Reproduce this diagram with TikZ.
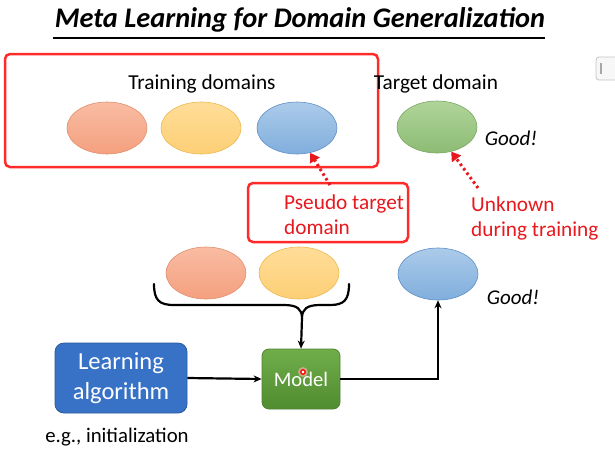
\documentclass[tikz,border=0pt]{standalone}
\usepackage{fontspec}
\setmainfont{Carlito}
\usetikzlibrary{arrows.meta,shapes.geometric}
\definecolor{redbox}{HTML}{FF2A2A}
\definecolor{redtxt}{HTML}{E8191E}
\definecolor{orT}{HTML}{F9BCA3}\definecolor{orB}{HTML}{F4A07E}\definecolor{orD}{HTML}{E0906E}
\definecolor{yeT}{HTML}{FFDD98}\definecolor{yeB}{HTML}{FDCF76}\definecolor{yeD}{HTML}{EDB94E}
\definecolor{blT}{HTML}{ACCBEA}\definecolor{blB}{HTML}{80AEDC}\definecolor{blD}{HTML}{5E8FC8}
\definecolor{grT}{HTML}{B0D49A}\definecolor{grB}{HTML}{8CBC74}\definecolor{grD}{HTML}{7AA862}
\tikzset{
  dom/.style={ellipse,draw,line width=0.6pt,minimum width=80pt,minimum height=52pt,inner sep=0pt},
  orangedom/.style={dom,draw=orD,top color=orT,bottom color=orB},
  yellowdom/.style={dom,draw=yeD,top color=yeT,bottom color=yeB},
  bluedom/.style={dom,draw=blD,top color=blT,bottom color=blB},
  greendom/.style={dom,draw=grD,top color=grT,bottom color=grB},
  redframe/.style={draw=redbox,line width=2.5pt,rounded corners=5pt},
  lbl/.style={font=\fontsize{21.3}{25}\selectfont,inner sep=0pt},
  redlbl/.style={font=\fontsize{21.3}{25}\selectfont,text=redtxt,align=left,inner sep=0pt},
  good/.style={font=\fontsize{21}{24}\selectfont\itshape,inner sep=0pt},
  redarrow/.style={draw=redtxt,line width=3pt,dash pattern=on 2.5pt off 3pt,-{Triangle[width=11pt,length=9pt]}},
  blackarrow/.style={draw=black,line width=2.2pt,-{Stealth[length=8pt,width=7pt]}},
}
\begin{document}
\begin{tikzpicture}[x=1pt,y=-1pt]
\useasboundingbox (0,0) rectangle (615,453);
\fill[white] (0,0) rectangle (615,453);
% title
\node[font=\fontsize{28.4}{32}\selectfont\bfseries\itshape,inner sep=0pt] (title) at (300,20) {Meta Learning for Domain Generalization};
\draw[line width=1.2pt] (53,38) -- (545,38);
% screen widget
\draw[gray!45,fill=gray!6,rounded corners=3pt,line width=0.8pt] (596,57) rectangle (622,80);
\draw[gray!70,line width=1.6pt] (601,63) -- (601,74);
% training domains frame
\draw[redframe] (5,54) rectangle (378,167);
\node[lbl] (train) at (202,84) {Training domains};
\node[orangedom] (o1) at (107,128) {};
\node[yellowdom] (y1) at (201,128) {};
\node[bluedom] (b1) at (297,128) {};
% target domain
\node[lbl] (target) at (436,84) {Target domain};
\node[greendom] (g1) at (437,127) {};
\node[good] (good1) at (511,138) {Good!};
% pseudo target
\node[redframe,minimum width=160pt,minimum height=59pt,inner sep=0pt] (pbox) at (328,212.5) {};
\node[redlbl,anchor=west] (ptxt) at (284,215) {Pseudo target\\domain};
\node[redlbl,anchor=west] (utxt) at (471,218) {Unknown\\during training};
\coordinate (pstart) at (330,185);
\coordinate (ustart) at (478,188);
\draw[redarrow] (pstart) -- (b1.-62);
\draw[redarrow] (ustart) -- (g1.-60);
% bottom domains
\node[orangedom] (o2) at (206,273) {};
\node[yellowdom] (y2) at (299,273) {};
\node[bluedom] (b2) at (438,274) {};
\node[good] (good2) at (513,297) {Good!};
% brace
\coordinate (cusp) at (302,318);
\draw[line width=2.2pt,line cap=round]
  (154,284) .. controls (154,300) and (159,305) .. (174,305) -- (284,305)
  .. controls (297,305) and (302,309) .. (cusp)
  .. controls (302,309) and (307,305) .. (320,305) -- (330,305)
  .. controls (344,305) and (349,300) .. (349,284);
% boxes
\node[draw={rgb,255:red,40;green,90;blue,160},line width=0.8pt,fill={rgb,255:red,56;green,114;blue,198},rounded corners=9pt,minimum width=132pt,minimum height=70pt,text=white,align=center,font=\fontsize{24.5}{30}\selectfont] (la) at (121,378) {Learning\\algorithm};
\node[draw={rgb,255:red,80;green,130;blue,50},line width=0.8pt,top color={rgb,255:red,112;green,173;blue,74},bottom color={rgb,255:red,80;green,140;blue,48},rounded corners=7pt,minimum width=78pt,minimum height=60pt,text=white,font=\fontsize{20.6}{24}\selectfont] (model) at (301,379) {Model};
\node[font=\fontsize{20.8}{24}\selectfont,inner sep=0pt] (eg) at (117,437) {e.g., initialization};
% laser dot
\fill[red!30,opacity=0.6] (303,372) circle (5pt);
\draw[red,line width=1.3pt,fill=white] (303,372) circle (2.2pt);
% arrows
\draw[blackarrow] (cusp) -- (model.north);
\draw[blackarrow] (la.east) -- (model.west);
\draw[blackarrow] (model.east) -| (b2.south);
\end{tikzpicture}
\end{document}
